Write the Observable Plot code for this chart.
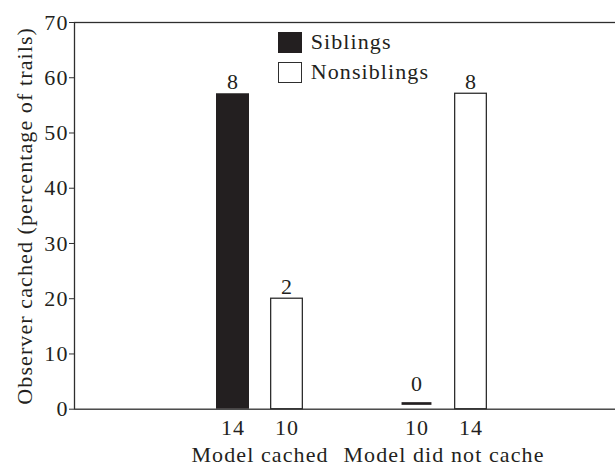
<!DOCTYPE html>
<html>
<head>
<meta charset="utf-8">
<script src="https://cdn.jsdelivr.net/npm/d3@7"></script>
<script src="https://cdn.jsdelivr.net/npm/@observablehq/plot@0.6"></script>
<style>
  html, body { margin: 0; padding: 0; background: #fff; }
  #chart { position: relative; width: 615px; height: 466px; font-family: "Liberation Serif", "Times New Roman", serif; color: #231f20; }
  .lg-sw { position: absolute; left: 277.5px; width: 24px; height: 21.6px; box-sizing: border-box; }
  .lg-tx { position: absolute; left: 310.7px; font-size: 22px; line-height: 22px; letter-spacing: 1.1px; white-space: nowrap; }
</style>
</head>
<body>
<div id="chart"></div>
<script>
// ---- data ----
const groups = ["Model cached", "Model did not cache"];
const series = ["Siblings", "Nonsiblings"];
const siblingsPct = [57.1, 0];
const nonsiblingsPct = [20, 57.1];
const siblingsCount = [8, 0];
const nonsiblingsCount = [2, 8];
const siblingsN = [14, 10];
const nonsiblingsN = [10, 14];
const yTicks = [0, 10, 20, 30, 40, 50, 60, 70];
const yLabel = "Observer cached (percentage of trails)";

// ---- styling ----
const ink = "#231f20";
const line = "#2e2e2e";
const fills = {Siblings: ink, Nonsiblings: "#ffffff"};
const seriesValues = {
  Siblings: {pct: siblingsPct, count: siblingsCount, n: siblingsN},
  Nonsiblings: {pct: nonsiblingsPct, count: nonsiblingsCount, n: nonsiblingsN}
};

const rows = [];
groups.forEach((g, i) => series.forEach(s => rows.push({
  group: g, series: s,
  pct: seriesValues[s].pct[i],
  count: seriesValues[s].count[i],
  n: seriesValues[s].n[i]
})));

const halfStep = 27;
const marks = [Plot.frame({stroke: line, strokeWidth: 1.3})];

series.forEach((s, k) => {
  const dx = (k === 0 ? -1 : 1) * halfStep;
  const data = rows.filter(d => d.series === s);
  const hollow = fills[s] === "#ffffff";
  marks.push(
    Plot.barY(data.filter(d => d.pct > 0), {
      x: "group", y: "pct", dx,
      fill: fills[s],
      stroke: hollow ? line : "none",
      strokeWidth: 1.3,
      insetLeft: hollow ? 0.65 : 0,
      insetRight: hollow ? 0.65 : 0
    }),
    Plot.tickY(data.filter(d => d.pct === 0), {
      x: "group", y: "pct", dx, dy: -5.7,
      stroke: ink, strokeWidth: 2.7, insetLeft: 1.55, insetRight: 1.55
    }),
    Plot.text(data.filter(d => d.pct > 0), {
      x: "group", y: "pct", text: "count", dx, dy: -4.4, lineAnchor: "bottom", fill: ink
    }),
    Plot.text(data.filter(d => d.pct === 0), {
      x: "group", y: "pct", text: "count", dx, dy: -18, lineAnchor: "bottom", fill: ink
    }),
    Plot.text(data, {
      x: "group", frameAnchor: "bottom", text: "n", dx, dy: 25.8, lineAnchor: "bottom", fill: ink
    })
  );
});

marks.push(
  Plot.axisY(yTicks, {tickSize: 5, tickPadding: 1, label: null, stroke: line, fill: ink}),
  Plot.axisX({tickSize: 0, tickPadding: 37, label: null, fill: ink}),
  Plot.text([yLabel], {
    frameAnchor: "left", rotate: -90, dx: -49.7, textAnchor: "middle",
    text: d => d, fill: ink
  })
);

const chart = Plot.plot({
  width: 615,
  height: 466,
  marginLeft: 74,
  marginRight: -2,
  marginTop: 22,
  marginBottom: 57.3,
  style: {
    fontFamily: '"Liberation Serif", "Times New Roman", serif',
    fontSize: "22px",
    letterSpacing: "1.1px",
    color: ink,
    background: "#fff",
    overflow: "hidden"
  },
  x: {type: "band", domain: groups, paddingInner: 0.8188, paddingOuter: 0.8778, align: 0.5186},
  y: {domain: [0, 70]},
  marks
});

const root = document.getElementById("chart");
root.appendChild(chart);

// legend overlaid inside the plot area
const swTops = [31.7, 61.7];
series.forEach((s, k) => {
  const sw = document.createElement("div");
  sw.className = "lg-sw";
  sw.style.top = swTops[k] + "px";
  sw.style.background = fills[s];
  sw.style.border = fills[s] === "#ffffff" ? "1.3px solid " + line : "none";
  root.appendChild(sw);
  const tx = document.createElement("div");
  tx.className = "lg-tx";
  tx.style.top = (swTops[k] - 1.1) + "px";
  tx.textContent = s;
  root.appendChild(tx);
});
</script>
</body>
</html>
